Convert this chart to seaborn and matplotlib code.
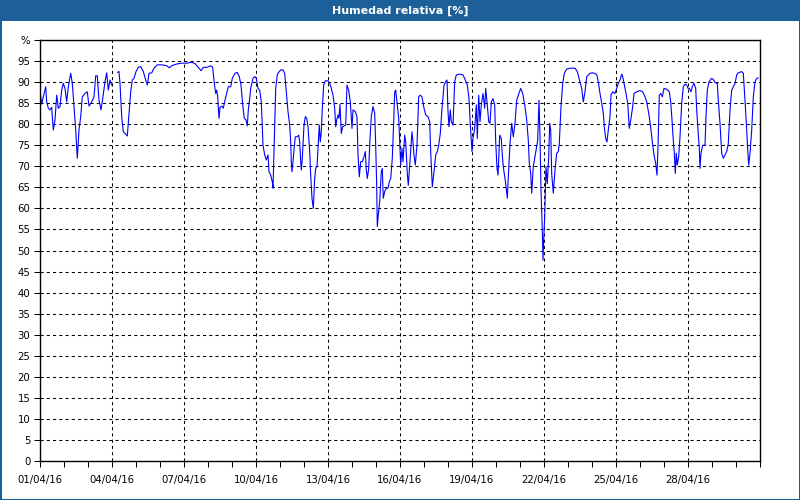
import numpy as np
import pandas as pd
import matplotlib
matplotlib.use("Agg")
import matplotlib.pyplot as plt
import matplotlib.dates as mdates
import seaborn as sns
from matplotlib.patches import Rectangle

# Hours since 01/04/16 00:00 and relative humidity
hours = [
    0, 1.7, 3.3, 5.7, 6.7, 8.3, 10, 11.7, 13.3, 15, 16.7, 18.3, 20, 21.7, 23.3,
    25, 26.7, 28.3, 30.7, 32.3, 34, 35.7, 37.3, 39, 40.7, 42.3, 45, 47.3, 49,
    51.7, 54, 55.7, 57.3, 59, 61, 62.7, 65, 66.7, 68.3, 70, 71.7, 74.5,
    77.3, 79, 80, 81.7, 83.3, 85, 87.3, 89, 90.7, 92.3, 94, 96, 98.3, 100.7,
    103.3, 105.7, 107.3, 109, 111.7, 114, 117.3, 121.7, 126.7, 129.3, 131.7,
    136.7, 141.7, 146.7, 151.7, 155, 158.3, 161, 163.3, 166.7, 170.7, 172.7,
    174.3, 175.7, 176.7, 177.7, 179, 180, 181.7, 183.3, 185, 186.7, 188.3,
    190.7, 192.3, 195, 197.3, 199.3, 201, 202.7, 204.3, 206, 207.3, 208.3,
    209.7, 210.7, 213, 214.7, 216.3, 218, 219.7, 221.3, 223, 224.7, 226.3,
    228, 229, 230.7, 232.3, 233, 234.7, 235.7, 237.3, 238, 240.7, 243, 244.7,
    246.3, 248, 249.7, 250.7, 251.3, 252, 253, 254, 255.3, 257, 258.7, 259.7,
    260.7, 261.3, 262.3, 264, 265.3, 266.7, 268, 269.7, 270.7, 272, 273.3,
    274.7, 275.7, 277, 278, 279.3, 280.3, 281.3, 282.3, 283.7, 285.3, 288,
    289.7, 291.3, 293, 294.7, 295.7, 296.7, 298, 299, 300, 301.3, 302.7, 304,
    305.7, 307, 308.7, 310.3, 312, 313, 315.3, 317, 318, 319.3, 320.7, 322.3,
    324, 325.3, 326.3, 327.3, 328.7, 330, 331.3, 333, 334.7, 335.7, 336.7,
    337.3, 338.3, 339.7, 341.3, 342.3, 343.3, 344.7, 346.3, 348, 349.3, 350.7,
    352.3, 353.7, 354.7, 355.7, 357, 358.7, 360.7, 362, 363, 364.7, 365.7,
    367.3, 368.3, 369.5, 370.7, 372, 373, 374, 375.3, 377, 378.7, 380.3, 382,
    384, 385.7, 388, 389.7, 390.7, 391.3, 392.3, 394, 395.7, 397.3, 398.7,
    400.3, 402, 404, 405.7, 407, 408, 409, 410.3, 411.3, 413, 414.7, 416.3,
    419.7, 423, 425.3, 427.3, 429, 430.3, 432, 433, 434.7, 436.3, 437.3, 438.7,
    440, 441.3, 443, 444.7, 445.7, 447.3, 448.7, 450, 451.3, 453, 454.7, 455.7,
    457, 458, 459.7, 461.3, 462.3, 463.3, 465.7, 467.3, 468.3, 470, 471.7,
    473.3, 475, 476.7, 478.3, 480.7, 482.7, 485, 486.7, 488.3, 489.3, 490.7,
    491.7, 493.3, 495, 496.7, 497.7, 499, 500, 501, 502.3, 503, 503.7, 504.7,
    506, 507.3, 508.7, 509.7, 510.7, 511.7, 513.3, 515, 516.7, 518.3, 519.3,
    521, 522.7, 524.3, 526.7, 530, 535, 537.3, 540, 541.7, 543.3, 545, 546.7,
    550, 553.3, 556.7, 558.3, 560, 561.7, 563.3, 564.3, 565.7, 567, 568.3, 570,
    571, 572.7, 575, 576.7, 578.3, 580, 581.7, 582.7, 584, 585.7, 587.7, 589.3,
    591, 592.7, 594, 596.7, 600, 602.7, 605, 606.7, 609, 611, 612.7, 614.3,
    615.7, 617, 618, 619.3, 620.7, 622.3, 624, 626.7, 629.3, 630.7, 632, 633.3,
    634.3, 635.3, 636.3, 637.3, 638.7, 640, 641.7, 643.3, 645, 646.7, 648,
    649.3, 651, 652.3, 654, 655.7, 656.7, 658, 659.3, 660, 661, 662.7, 665, 666,
    667.3, 669, 671.7, 673.3, 675, 677.3, 678.3, 680, 681.7, 683.3, 685, 686.7,
    688.3, 690, 691.7, 693.3, 695, 696.7, 698.3, 701.7, 703.3, 705, 706.7,
    707.7, 708.7, 710, 711.7, 713.3, 715, 716.7, 718.3,
]
humidity = [
    87.7, 84.8, 86.5, 88.9, 85.3, 83.8, 83.4, 84.0, 78.6, 81.0, 86.9, 83.8, 84.2,
    88.1, 89.7, 88.5, 85.3, 88.9, 92.1, 89.7, 84.2, 78.6, 71.9, 78.6, 81.8, 86.5,
    87.3, 87.7, 84.3, 85.3, 86.5, 91.5, 91.5, 85.7, 83.4, 86.1, 90.1, 92.2, 88.1,
    90.5, 89.3, np.nan,
    92.3, 92.5, 89.7, 81.8, 78.2, 77.8, 77.2, 82.6, 87.7, 90.5, 90.9, 92.5, 93.5,
    93.7, 92.5, 90.5, 89.3, 92.1, 92.2, 93.3, 94.1, 94.1, 93.9, 93.4, 93.9, 94.3,
    94.5, 94.5, 94.7, 94.4, 93.5, 92.7, 93.5, 93.5, 93.9, 93.5, 89.7, 87.3, 88.1,
    86.5, 81.4, 84.0, 84.3, 83.8, 85.7, 87.3, 88.9, 88.9, 90.9, 92.1, 92.3, 91.3,
    89.3, 84.6, 81.4, 81.0, 79.6, 83.4, 86.1, 88.5, 90.9, 91.3, 90.9, 88.5, 88.1,
    85.3, 75.0, 72.7, 71.5, 72.7, 68.7, 67.9, 66.3, 64.8, 79.8, 88.5, 91.7, 92.1,
    92.9, 92.9, 92.1, 87.7, 83.0, 79.8, 75.8, 71.1, 68.7, 71.1, 73.9, 77.0, 77.0,
    77.4, 75.8, 71.1, 69.1, 71.9, 79.8, 81.8, 81.4, 79.4, 73.5, 67.9, 62.4, 60.0,
    67.1, 69.5, 69.9, 74.3, 79.8, 75.8, 78.2, 83.8, 89.3, 90.3, 90.3, 89.7, 88.5,
    86.9, 83.8, 79.4, 81.0, 82.2, 81.4, 84.7, 77.8, 79.4, 79.6, 79.8, 89.3, 88.1,
    85.3, 79.0, 83.4, 83.0, 81.8, 72.7, 67.5, 71.1, 71.1, 72.3, 73.5, 69.1, 67.1,
    69.5, 76.6, 81.8, 84.2, 82.6, 75.0, 65.2, 55.7, 58.4, 61.6, 68.7, 69.5, 62.4,
    64.0, 64.8, 64.8, 66.3, 67.1, 71.9, 80.6, 87.7, 88.1, 85.3, 81.4, 70.3, 74.3,
    71.1, 77.4, 75.8, 68.3, 65.5, 69.5, 73.5, 78.2, 75.8, 72.7, 70.3, 75.0, 86.5,
    86.9, 86.5, 83.8, 82.2, 81.8, 80.6, 73.5, 70.3, 65.1, 68.7, 72.7, 73.5, 75.0,
    77.8, 83.8, 89.3, 90.1, 90.5, 83.0, 79.4, 83.4, 80.6, 79.8, 90.1, 91.7, 91.9,
    91.7, 90.5, 89.3, 86.1, 79.8, 73.5, 76.6, 79.0, 84.6, 76.6, 86.9, 80.6, 84.6,
    87.3, 83.8, 88.5, 84.6, 80.6, 80.2, 85.3, 86.1, 84.6, 75.8, 69.5, 67.9, 77.4,
    76.6, 72.7, 69.9, 65.9, 62.4, 67.5, 75.4, 80.2, 77.0, 80.2, 85.7, 86.9, 88.5,
    87.3, 84.2, 81.0, 76.2, 70.7, 68.3, 63.6, 69.9, 72.3, 74.7, 76.2, 85.7, 77.0,
    64.4, 54.9, 47.7, 52.5, 58.0, 69.9, 65.9, 72.3, 80.2, 78.6, 68.3, 63.6, 69.1,
    73.1, 73.5, 75.4, 84.2, 89.7, 92.1, 93.1, 93.3, 93.3, 92.5, 90.1, 88.5, 85.3,
    87.7, 91.3, 92.1, 92.2, 91.8, 90.1, 87.3, 85.0, 82.6, 79.4, 76.6, 75.8, 78.6,
    81.8, 86.9, 87.7, 87.3, 88.5, 89.7, 90.5, 91.9, 91.3, 89.7, 87.7, 85.0, 79.0,
    81.4, 84.2, 87.3, 87.7, 88.0, 87.7, 86.5, 85.3, 82.2, 78.6, 75.0, 72.3, 70.7,
    67.9, 74.7, 86.9, 87.3, 86.5, 88.5, 88.3, 87.7, 85.3, 81.0, 76.2, 73.1, 68.3,
    73.1, 70.3, 72.3, 77.0, 85.0, 88.9, 89.5, 89.3, 88.5, 88.5, 87.7, 88.9, 89.7,
    88.5, 83.4, 78.6, 74.3, 69.5, 73.1, 75.0, 75.0, 81.8, 88.1, 90.1, 90.9, 90.6,
    89.9, 89.7, 85.7, 80.2, 73.1, 71.9, 72.7, 73.5, 75.4, 83.4, 88.1, 88.9, 89.7,
    91.7, 92.2, 92.5, 92.1, 85.7, 78.6, 73.9, 70.3, 73.1, 78.6, 86.5, 90.1, 90.9,
    91.0,
]

x_ticks = ["2016-04-01", "2016-04-04", "2016-04-07", "2016-04-10", "2016-04-13",
           "2016-04-16", "2016-04-19", "2016-04-22", "2016-04-25", "2016-04-28"]
y_ticks = list(range(0, 105, 5))
y_labels = [str(v) for v in y_ticks[:-1]] + ["%"]

bar_color = "#1d5f98"


def main():
    sns.set_style("ticks")
    plt.rcParams["font.family"] = ["DejaVu Sans"]

    start = pd.Timestamp("2016-04-01")
    df = pd.DataFrame({
        "time": start + pd.to_timedelta(hours, unit="h"),
        "hr": humidity,
    })
    # split into segments where the record has a gap
    df["seg"] = df["hr"].isna().cumsum()
    df = df.dropna()

    fig = plt.figure(figsize=(8, 5), dpi=100)
    fig.patch.set_facecolor("white")
    ax = fig.add_axes([40 / 800, 39 / 500, 720 / 800, 421 / 500])

    sns.lineplot(data=df, x="time", y="hr", units="seg", estimator=None,
                 sort=False, color="#0000ff", linewidth=0.8, ax=ax)

    ax.set_xlim(start, pd.Timestamp("2016-05-01"))
    ax.set_ylim(0, 100)
    ax.set_xticks(pd.to_datetime(x_ticks))
    ax.xaxis.set_major_formatter(mdates.DateFormatter("%d/%m/%y"))
    ax.xaxis.set_minor_locator(mdates.DayLocator(interval=1))
    ax.set_yticks(y_ticks)
    ax.set_yticklabels(y_labels)
    ax.set(xlabel="", ylabel="")

    ax.grid(True, which="major", color="black", linestyle=(0, (3, 3)), linewidth=0.75)
    for s in ax.spines.values():
        s.set_visible(True)
        s.set_color("black")
        s.set_linewidth(1.0)
    ax.tick_params(which="both", direction="out", length=4, width=0.75,
                   color="black", labelsize=7.3, labelcolor="black", pad=3)
    ax.tick_params(axis="x", pad=6)

    # window-style title bar and frame
    fig.patches.append(Rectangle((0, 1 - 21 / 500), 1, 21 / 500, transform=fig.transFigure,
                                 facecolor=bar_color, edgecolor="none", zorder=0))
    fig.patches.append(Rectangle((0, 0), 1, 1, transform=fig.transFigure, fill=False,
                                 edgecolor=bar_color, linewidth=2.2, zorder=1))
    fig.text(0.5, 1 - 10.5 / 500, "Humedad relativa [%]", color="white",
             fontsize=8, fontweight="bold", ha="center", va="center")

    fig.savefig("out.png", dpi=100)


if __name__ == "__main__":
    main()
